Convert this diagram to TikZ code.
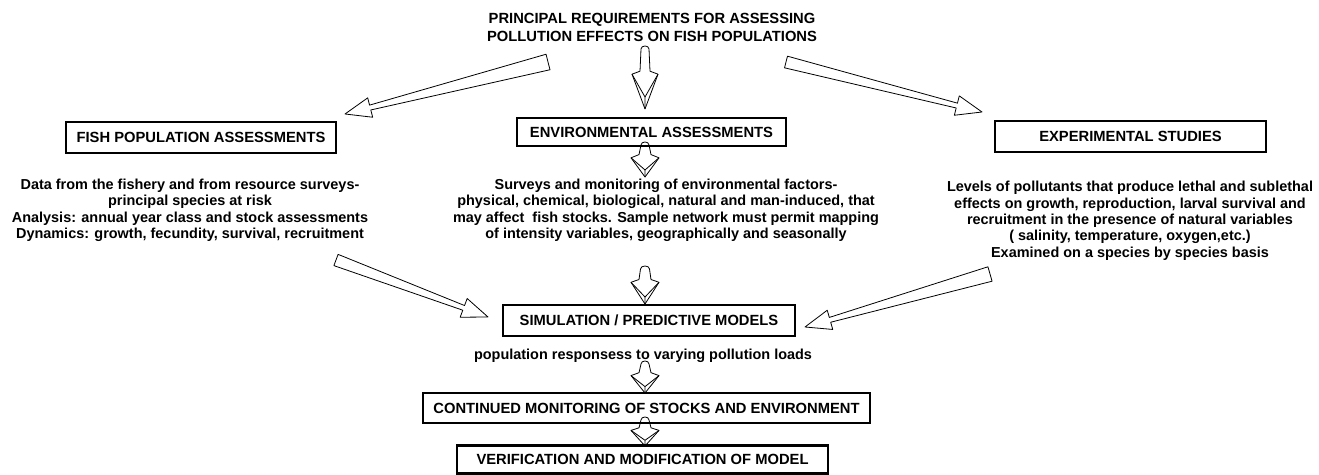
\documentclass[tikz,border=0pt]{standalone}
\usepackage{fontspec}
\setmainfont{Liberation Sans}
\usetikzlibrary{calc}
\newcommand\labelfont{\fontsize{14.8}{18}\selectfont\bfseries}
\newcommand\bodyfont{\fontsize{14.5}{16.5}\selectfont\bfseries}
% tapered hollow arrow: #1 tail, #2 tip, #3 tail half width, #4 shaft half width near head, #5 head half width, #6 head length
\newcommand\taperarrow[6]{%
  \draw[arr] ($(#1)!#3!90:(#2)$) -- ($($(#2)!#6!(#1)$)!#4!-90:(#1)$) -- ($($(#2)!#6!(#1)$)!#5!-90:(#1)$) -- (#2)
     -- ($($(#2)!#6!(#1)$)!#5!90:(#1)$) -- ($($(#2)!#6!(#1)$)!#4!90:(#1)$) -- ($(#1)!#3!-90:(#2)$) -- cycle;}
% vertical 3D arrow: #1 top, #2 tip, #3 cap half, #4 shaft half, #5 wing half, #6 t head start, #7 t wing, #8 t of inner V
\newcommand\fatarrow[8]{%
  \draw[arr] ($(#1)+(-#3,0)$) -- ($(#1)!#6!(#2)+(-#4,0)$) -- ($(#1)!#7!(#2)+(-#5,0)$) -- (#2)
     -- ($(#1)!#7!(#2)+(#5,0)$) -- ($(#1)!#6!(#2)+(#4,0)$) -- ($(#1)+(#3,0)$)
     .. controls ($(#1)+(#3,-4)$) and ($(#1)+(-#3,-4)$) .. cycle;
  \draw[arr] ($(#1)!#7!(#2)+(-#5,0)$) -- ($(#1)!#8!(#2)$) -- ($(#1)!#7!(#2)+(#5,0)$);
  \draw[arr] ($(#1)!#8!(#2)$) -- (#2);}
\begin{document}
\begin{tikzpicture}[x=1bp,y=-1bp,
  box/.style={draw, line width=2.2bp, inner sep=0pt, minimum height=31bp, font=\labelfont, fill=white},
  txt/.style={align=center, inner sep=0pt, font=\bodyfont},
  arr/.style={draw, line width=0.8bp, line join=round}]
\useasboundingbox (0,0) rectangle (1319,475);

\node[align=center, inner sep=0pt, font=\labelfont] (title) at (652,27)
  {PRINCIPAL REQUIREMENTS FOR ASSESSING\\POLLUTION EFFECTS ON FISH POPULATIONS};

\node[box, minimum width=270bp] (fish) at (201,137.5) {FISH POPULATION ASSESSMENTS};
\node[box, minimum width=269bp, minimum height=28bp] (env) at (651.5,132) {ENVIRONMENTAL ASSESSMENTS};
\node[box, minimum width=271bp] (exp) at (1130.5,136.5) {EXPERIMENTAL STUDIES};

\node[txt, anchor=north] (ftxt) at (190,178.5) {Data from the fishery and from resource surveys-\\principal species at risk\\Analysis: annual year class and stock assessments\\Dynamics: growth, fecundity, survival, recruitment};
\node[txt, anchor=north] (etxt) at (666,178.5) {Surveys and monitoring of environmental factors-\\physical, chemical, biological, natural and man-induced, that\\may affect\ \ fish stocks. Sample network must permit mapping\\of intensity variables, geographically and seasonally};
\node[txt, anchor=north] (xtxt) at (1130,181) {Levels of pollutants that produce lethal and sublethal\\effects on growth, reproduction, larval survival and\\recruitment in the presence of natural variables\\( salinity, temperature, oxygen,etc.)\\Examined on a species by species basis};

\node[box, minimum width=292bp] (sim) at (649,320.5) {SIMULATION / PREDICTIVE MODELS};
\node[txt, anchor=base] (ptxt) at (643,359) {population responsess to varying pollution loads};
\node[box, minimum width=447bp, minimum height=30bp] (cont) at (646.5,408) {CONTINUED MONITORING OF STOCKS AND ENVIRONMENT};
\node[box, minimum width=371bp, minimum height=28bp] (ver) at (642.5,459.5) {VERIFICATION AND MODIFICATION OF MODEL};

% arrow end points
\coordinate (d1a) at (548,62);  \coordinate (d1b) at (345,114);
\coordinate (d2a) at (786,62);  \coordinate (d2b) at (982,112);
\coordinate (d3a) at (336,260); \coordinate (d3b) at (488,317);
\coordinate (d4a) at (990,274); \coordinate (d4b) at (805,327);
\coordinate (c1a) at (645,49);  \coordinate (c1b) at (645,109);
\coordinate (c2a) at (645,145); \coordinate (c2b) at (645,177);
\coordinate (c3a) at (645,269); \coordinate (c3b) at (645,304);
\coordinate (c4a) at (645,364); \coordinate (c4b) at (645,393);
\coordinate (c5a) at (645,420); \coordinate (c5b) at (645,446);

\taperarrow{d1a}{d1b}{8bp}{2.5bp}{10bp}{26bp}
\taperarrow{d2a}{d2b}{6bp}{2.5bp}{10bp}{26bp}
\taperarrow{d3a}{d3b}{6bp}{2.5bp}{10bp}{26bp}
\taperarrow{d4a}{d4b}{7.5bp}{2.5bp}{10bp}{26bp}

\fatarrow{c1a}{c1b}{4}{5}{13}{0.37}{0.42}{0.8}
\fatarrow{c2a}{c2b}{4}{6}{14}{0.3}{0.4}{0.78}
\fatarrow{c3a}{c3b}{4.5}{6}{14}{0.3}{0.38}{0.8}
\fatarrow{c4a}{c4b}{4}{6}{14}{0.3}{0.4}{0.78}
\fatarrow{c5a}{c5b}{4}{6}{14}{0.3}{0.4}{0.78}
\end{tikzpicture}
\end{document}
